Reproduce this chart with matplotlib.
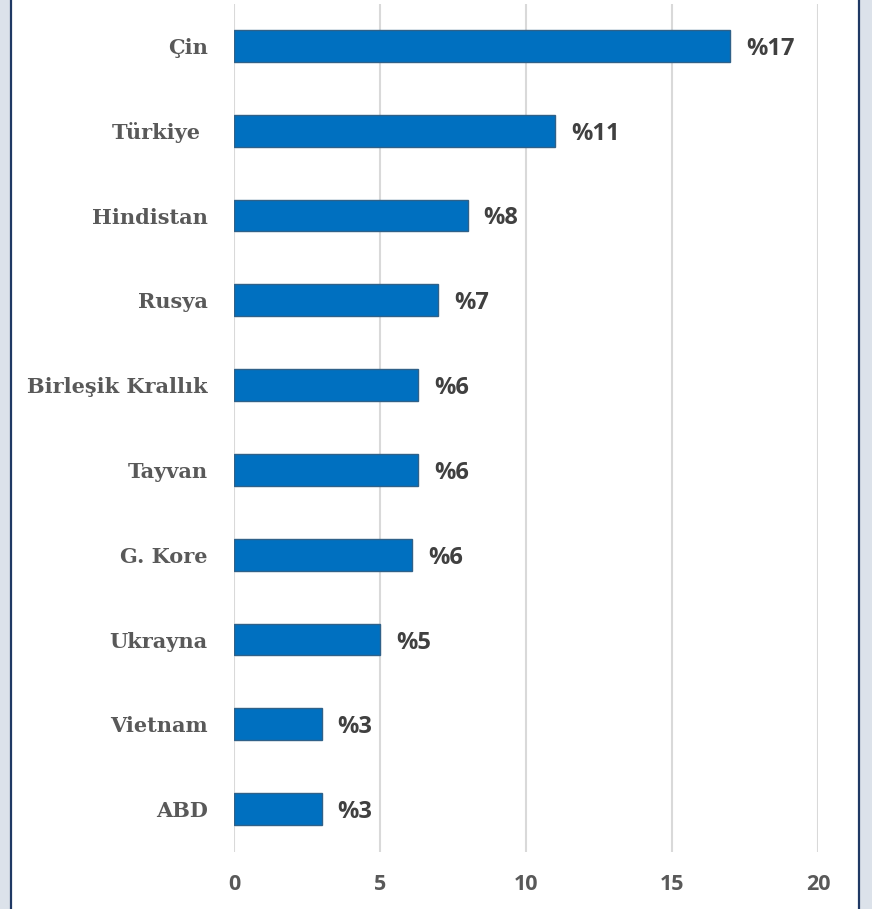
import matplotlib
matplotlib.use("Agg")
import matplotlib.pyplot as plt
from matplotlib.patches import Rectangle

# Shares by country (percent)
countries = ["Çin", "Türkiye ", "Hindistan", "Rusya", "Birleşik Krallık",
             "Tayvan", "G. Kore", "Ukrayna", "Vietnam", "ABD"]
shares = [17.0, 11.0, 8.0, 7.0, 6.3, 6.3, 6.1, 5.0, 3.0, 3.0]
x_ticks = [0, 5, 10, 15, 20]

W, H, DPI = 872, 909, 100
fig = plt.figure(figsize=(W / DPI, H / DPI), dpi=DPI)
fig.patch.set_facecolor("#dce2ea")

# white panel with navy side borders
fig.patches.append(Rectangle((11 / W, -0.01), (859 - 11) / W, 1.02,
                             transform=fig.transFigure, facecolor="white",
                             edgecolor="#1f3864", linewidth=1.6, zorder=-5))

ax = fig.add_axes([234 / W, (909 - 851.5) / H, (818 - 234) / W, (851.5 - 3.5) / H])
ax.set_zorder(2)
ax.set_facecolor("none")

y = list(range(len(countries)))
ax.barh(y, shares, height=0.375, color="#0070c0", edgecolor="#2f6189",
        linewidth=1.0, zorder=3)

for yi, v in zip(y, shares):
    ax.annotate(f"%{v:.0f}", xy=(v, yi), xytext=(11.5, 0), textcoords="offset points",
                ha="left", va="center_baseline", fontsize=17, fontweight="bold",
                family="Open Sans", color="#404040")

ax.set_xlim(0, 20)
ax.set_ylim(len(countries) - 0.5, -0.5)
ax.set_xticks(x_ticks)
ax.set_xticklabels([str(t) for t in x_ticks], family="Open Sans", fontweight="bold",
                   fontsize=15.5, color="#595959")
ax.set_yticks(y)
ax.set_yticklabels(countries, family="DejaVu Serif", fontweight="bold",
                   fontsize=15, color="#595959")
ax.tick_params(axis="both", length=0)
ax.tick_params(axis="y", pad=19)
ax.tick_params(axis="x", pad=16)
ax.grid(axis="x", color="#d9d9d9", linewidth=1.5, zorder=0)
for s in ax.spines.values():
    s.set_visible(False)

fig.savefig("out.png", dpi=DPI)
